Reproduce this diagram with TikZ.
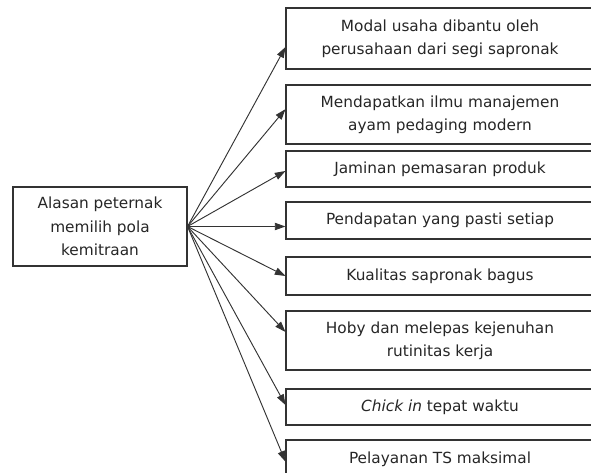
\documentclass[tikz,border=0pt]{standalone}
\usepackage{fontspec}
\setmainfont{DejaVu Sans}
\usetikzlibrary{arrows.meta}
\tikzset{
	kotak/.style={draw=black!80, line width=0.8pt, align=center, inner sep=0pt, text=black!85, font=\fontsize{11.5}{17.5}\selectfont},
	alasan/.style={kotak, minimum width=231pt},
	panah/.style={draw=black!80, line width=0.7pt, -{Triangle[length=8pt,width=5.5pt]}}
}
\begin{document}
\begin{tikzpicture}[x=0.75pt, y=-0.75pt]
			%%%%% START %%%%%
			
			\useasboundingbox (0,0) rectangle (591,473);
			
			\node[kotak, minimum width=130.5pt, minimum height=59.25pt] (pusat) at (100,226.5) {Alasan peternak\\memilih pola\\kemitraan};
			
			\node[alasan, minimum height=45.75pt] (a1) at (440,38.5) {Modal usaha dibantu oleh\\perusahaan dari segi sapronak};
			\node[alasan, minimum height=44.25pt] (a2) at (440,114.5) {Mendapatkan ilmu manajemen\\ayam pedaging modern};
			\node[alasan, minimum height=27pt] (a3) at (440,169) {Jaminan pemasaran produk};
			\node[alasan, minimum height=27.75pt] (a4) at (440,220.5) {Pendapatan yang pasti setiap};
			\node[alasan, minimum height=28.5pt] (a5) at (440,276) {Kualitas sapronak bagus};
			\node[alasan, minimum height=44.25pt] (a6) at (440,340.5) {Hoby dan melepas kejenuhan\\rutinitas kerja};
			\node[alasan, minimum height=27pt] (a7) at (440,407) {\textit{Chick in} tepat waktu};
			\node[alasan, minimum height=28.5pt] (a8) at (440,459) {Pelayanan TS maksimal};
			
			\draw[panah] (pusat.east) -- ([yshift=-6.4pt]a1.west);
			\draw[panah] (pusat.east) -- ([yshift=4pt]a2.west);
			\draw[panah] (pusat.east) -- ([yshift=-1.5pt]a3.west);
			\draw[panah] (pusat.east) -- ([yshift=-4.5pt]a4.west);
			\draw[panah] (pusat.east) -- (a5.west);
			\draw[panah] (pusat.east) -- ([yshift=6.4pt]a6.west);
			\draw[panah] (pusat.east) -- ([yshift=1.5pt]a7.west);
			\draw[panah] (pusat.east) -- ([yshift=-2pt]a8.west);
			
			%%%%% END %%%%%
\end{tikzpicture}
\end{document}
